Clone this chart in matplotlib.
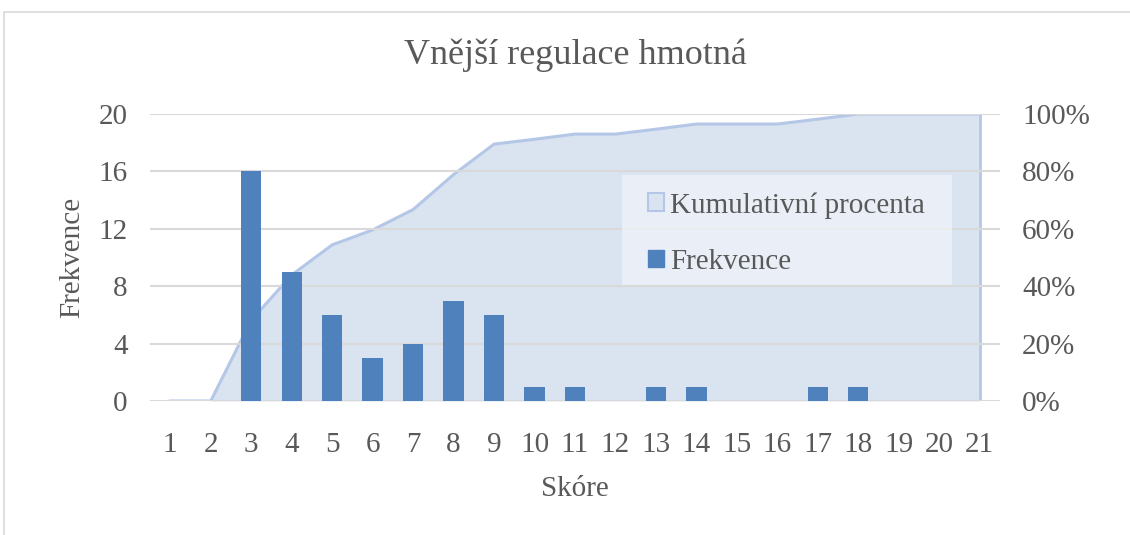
import matplotlib.pyplot as plt
from matplotlib.patches import Patch, Rectangle
from matplotlib.ticker import PercentFormatter

plt.rcParams["font.family"] = ["Liberation Serif", "DejaVu Serif"]

scores = list(range(1, 22))
freq = [0, 0, 16, 9, 6, 3, 4, 7, 6, 1, 1, 0, 1, 1, 0, 0, 1, 1, 0, 0, 0]
cum_pct = [0, 0, 28.1, 43.9, 54.4, 59.6, 66.7, 78.9, 89.5, 91.2, 93.0, 93.0,
           94.7, 96.5, 96.5, 96.5, 98.2, 100, 100, 100, 100]

text_col = "#595959"
bar_col = "#4F81BD"
area_fill = "#DAE3F0"
area_line = "#B4C7E7"
grid_col = "#D9D9D9"

fig = plt.figure(figsize=(11.3, 5.35), dpi=100)
fig.patches.append(Rectangle((4 / 1130, -0.1), 1.2, 1.1 - 12 / 535, transform=fig.transFigure,
                             facecolor="none", edgecolor="#D9D9D9", linewidth=1.2))

ax = fig.add_axes([150 / 1130, 1 - 401 / 535, 850 / 1130, 287 / 535])
ax2 = ax.twinx()

# area on secondary axis, kept behind the bars
ax2.fill_between(scores, [v / 100 for v in cum_pct], 0, color=area_fill, linewidth=0)
ax2.plot(scores, [v / 100 for v in cum_pct], color=area_line, linewidth=2.2)
ax2.vlines(scores[-1], 0, cum_pct[-1] / 100, color=area_line, linewidth=2)
ax2.set_ylim(0, 1)
ax2.yaxis.set_major_formatter(PercentFormatter(1.0, decimals=0))
ax2.set_yticks([0, 0.2, 0.4, 0.6, 0.8, 1.0])

ax.set_zorder(ax2.get_zorder() + 1)
ax.patch.set_visible(False)
ax.bar(scores, freq, width=0.5, color=bar_col, zorder=3)
ax.set_xlim(0.5, 21.5)
ax.set_ylim(0, 20)
ax.set_yticks([0, 4, 8, 12, 16, 20])
ax.set_xticks(scores)
ax.yaxis.grid(True, color=grid_col, linewidth=1.5)
ax.set_axisbelow(True)

for a in (ax, ax2):
    for s in a.spines.values():
        s.set_visible(False)
    a.tick_params(length=0, labelsize=21, colors=text_col)
ax.tick_params(axis="y", pad=16)
ax.tick_params(axis="x", pad=22)
ax2.tick_params(axis="y", pad=16)

ax.set_title("Vnější regulace hmotná", fontsize=26, color=text_col, pad=36)
ax.set_xlabel("Skóre", fontsize=21, color=text_col, labelpad=13)
ax.set_ylabel("Frekvence", fontsize=21, color=text_col, labelpad=10)

# legend background box
ax.add_patch(Rectangle((0.555, 0.404), 0.389, 0.383, transform=ax.transAxes,
                       facecolor="#F2F5FA", alpha=0.7, edgecolor="none", zorder=4))

handles = [Patch(facecolor=area_fill, edgecolor=area_line, linewidth=1.5),
           Patch(facecolor=bar_col, edgecolor=bar_col)]
leg = ax.legend(handles, ["Kumulativní procenta", "Frekvence"], loc="upper left",
                bbox_to_anchor=(0.586, 0.728), fontsize=21, frameon=False,
                labelspacing=1.03, handlelength=0.55, handleheight=0.55, handletextpad=0.2,
                borderpad=0, borderaxespad=0)
leg.set_zorder(5)
for t in leg.get_texts():
    t.set_color(text_col)

fig.savefig("out.png", dpi=100)
